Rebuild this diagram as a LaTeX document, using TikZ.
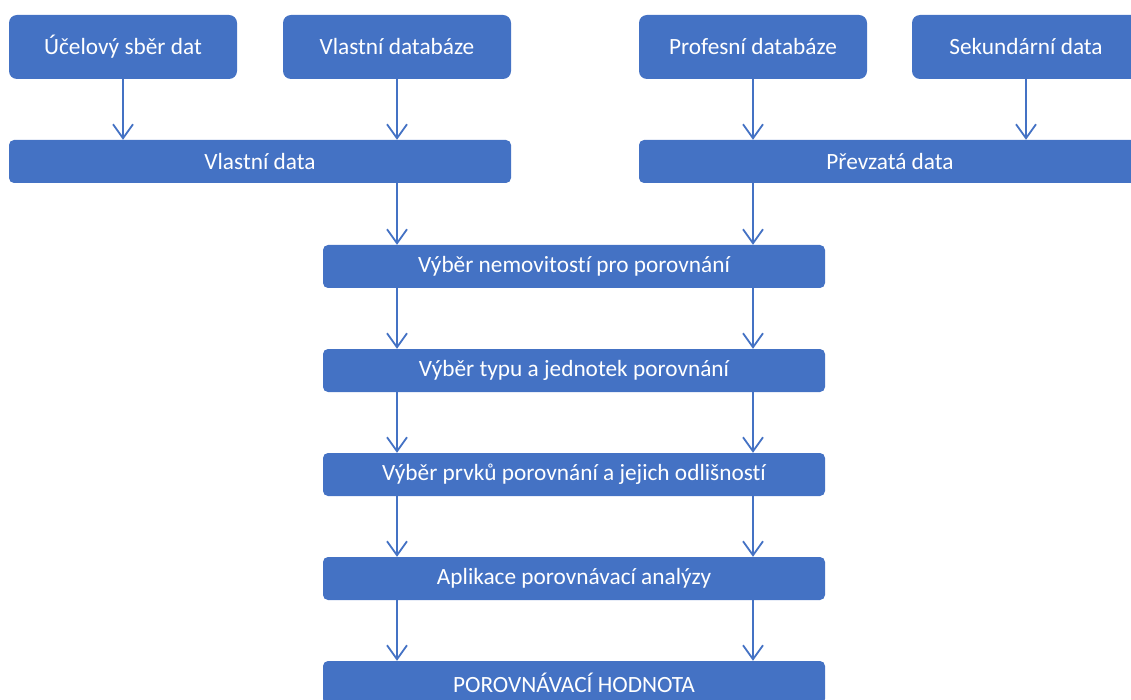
\documentclass[tikz,border=0pt]{standalone}
\usepackage{fontspec}
\setmainfont[Ligatures=NoCommon]{Carlito}
\usetikzlibrary{arrows.meta}
\definecolor{boxblue}{HTML}{4472C4}
\tikzset{
  box/.style={fill=boxblue, text=white, rounded corners=8pt, minimum width=228pt, minimum height=64pt, inner sep=0pt, font=\fontsize{23.3}{28}\selectfont},
  bar/.style={fill=boxblue, text=white, rounded corners=5pt, minimum width=502pt, minimum height=43pt, inner sep=0pt, font=\fontsize{23.3}{28}\selectfont},
  arr/.style={draw=boxblue, line width=1.8pt, -{Straight Barb[length=14pt,width=20pt,line width=1.8pt]}}
}
\begin{document}
\begin{tikzpicture}[x=1pt,y=-1pt]
\useasboundingbox (0,0) rectangle (1131,700);
\clip (0,0) rectangle (1131,700);
\node[box] (b1) at (123,47) {Účelový sběr dat};
\node[box] (b2) at (397,47) {Vlastní databáze};
\node[box] (b3) at (753,47) {Profesní databáze};
\node[box] (b4) at (1026,47) {Sekundární data};
\node[bar] (vd) at (260,161.5) {Vlastní data};
\node[bar] (pd) at (890,161.5) {Převzatá data};
\node[bar] (m1) at (574,266.5) {Výběr nemovitostí pro porovnání};
\node[bar] (m2) at (574,370.5) {Výběr typu a jednotek porovnání};
\node[bar] (m3) at (574,474.5) {Výběr prvků porovnání a jejich odlišností};
\node[bar] (m4) at (574,578.5) {Aplikace porovnávací analýzy};
\node[bar] (m5) at (574,682.5) {POROVNÁVACÍ HODNOTA};
\foreach \s/\t in {b1/vd,b2/vd,b3/pd,b4/pd}
  \draw[arr] (\s.south) -- (\s.south |- \t.north);
\draw[arr] (b2.south |- vd.south) -- (b2.south |- m1.north);
\draw[arr] (b3.south |- pd.south) -- (b3.south |- m1.north);
\foreach \s/\t in {m1/m2,m2/m3,m3/m4,m4/m5}{
  \draw[arr] (b2.south |- \s.south) -- (b2.south |- \t.north);
  \draw[arr] (b3.south |- \s.south) -- (b3.south |- \t.north);
}
\end{tikzpicture}
\end{document}
